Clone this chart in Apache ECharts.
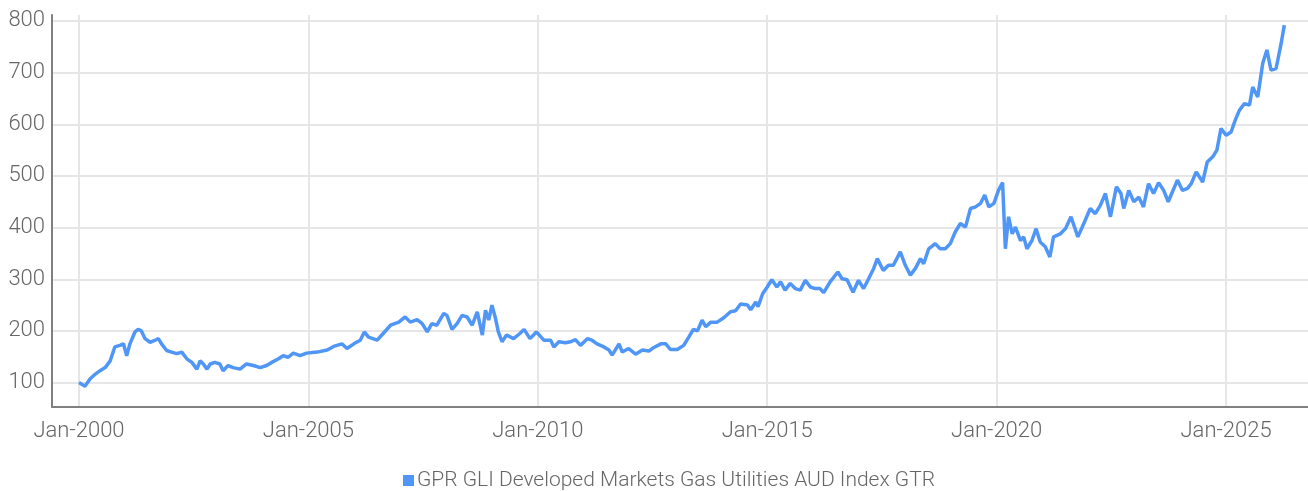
<!DOCTYPE html>
<html>
<head>
<meta charset="utf-8">
<script src="https://cdn.jsdelivr.net/npm/echarts@6/dist/echarts.min.js"></script>
<style>
  html, body { margin: 0; padding: 0; background: #ffffff; }
  #chart { width: 1308px; height: 491px; }
</style>
</head>
<body>
<div id="chart"></div>
<script>
// dates as decimal years
const years = [
  2000.00, 2000.13, 2000.24, 2000.35, 2000.46, 2000.57, 2000.68, 2000.78, 2000.89, 2000.97,
  2001.04, 2001.11, 2001.22, 2001.29, 2001.36, 2001.44, 2001.55, 2001.66, 2001.73, 2001.80, 2001.91,
  2002.02, 2002.13, 2002.24, 2002.35, 2002.46, 2002.57, 2002.64, 2002.71, 2002.79, 2002.86, 2002.96,
  2003.07, 2003.14, 2003.25, 2003.36, 2003.51, 2003.65, 2003.80, 2003.95,
  2004.09, 2004.20, 2004.35, 2004.45, 2004.56, 2004.67, 2004.82, 2004.96,
  2005.19, 2005.41, 2005.55, 2005.73, 2005.84, 2005.99,
  2006.13, 2006.22, 2006.31, 2006.50, 2006.63, 2006.79, 2006.97,
  2007.11, 2007.22, 2007.37, 2007.48, 2007.59, 2007.69, 2007.80, 2007.95,
  2008.02, 2008.13, 2008.24, 2008.35, 2008.46, 2008.57, 2008.68, 2008.79, 2008.86, 2008.93,
  2009.00, 2009.07, 2009.14, 2009.22, 2009.32, 2009.47, 2009.61, 2009.70, 2009.83, 2009.97,
  2010.13, 2010.28, 2010.35, 2010.46, 2010.60, 2010.71, 2010.82, 2010.93,
  2011.08, 2011.18, 2011.29, 2011.44, 2011.55, 2011.62, 2011.77, 2011.84, 2011.98,
  2012.13, 2012.28, 2012.42, 2012.53, 2012.68, 2012.79, 2012.89,
  2013.04, 2013.18, 2013.29, 2013.39, 2013.48, 2013.58, 2013.66, 2013.77, 2013.91,
  2014.06, 2014.20, 2014.31, 2014.42, 2014.57, 2014.64, 2014.75, 2014.80, 2014.90,
  2015.00, 2015.10, 2015.21, 2015.29, 2015.39, 2015.50, 2015.61, 2015.72, 2015.83, 2015.94,
  2016.05, 2016.15, 2016.23, 2016.37, 2016.54, 2016.63, 2016.74, 2016.87, 2016.99,
  2017.10, 2017.21, 2017.32, 2017.40, 2017.53, 2017.64, 2017.75, 2017.90,
  2018.01, 2018.12, 2018.23, 2018.34, 2018.41, 2018.52, 2018.66, 2018.77, 2018.88, 2018.99,
  2019.10, 2019.21, 2019.32, 2019.43, 2019.54, 2019.65, 2019.74, 2019.83, 2019.94,
  2020.04, 2020.13, 2020.19, 2020.26, 2020.34, 2020.41, 2020.52, 2020.59, 2020.66, 2020.77, 2020.86, 2020.95,
  2021.06, 2021.16, 2021.24, 2021.39, 2021.50, 2021.62, 2021.77, 2021.90,
  2022.04, 2022.15, 2022.26, 2022.37, 2022.48, 2022.61, 2022.71, 2022.77, 2022.88, 2022.99,
  2023.10, 2023.20, 2023.31, 2023.42, 2023.53, 2023.64, 2023.74, 2023.83, 2023.94,
  2024.05, 2024.16, 2024.24, 2024.35, 2024.49, 2024.59, 2024.71, 2024.80, 2024.89,
  2025.00, 2025.11, 2025.20, 2025.29, 2025.40, 2025.51, 2025.58, 2025.69, 2025.80, 2025.89, 2025.98,
  2026.09, 2026.20, 2026.27
]
const values = [
  100, 93, 107, 116, 123, 129, 142, 169, 172, 175,
  152, 175, 198, 203, 200, 185, 178, 182, 185, 175, 162,
  159, 156, 159, 146, 139, 126, 142, 136, 126, 136, 139,
  136, 123, 133, 129, 126, 136, 133, 129,
  133, 139, 146, 152, 149, 157, 152, 157,
  159, 163, 170, 175, 166, 175,
  182, 198, 188, 182, 195, 211, 217,
  227, 217, 222, 214, 198, 214, 211, 234,
  230, 203, 214, 230, 227, 211, 237, 192, 240, 221,
  250, 227, 198, 179, 192, 185, 195, 203, 185, 198,
  182, 182, 169, 179, 177, 179, 183, 172,
  185, 182, 175, 169, 163, 153, 175, 159, 166,
  155, 163, 161, 168, 175, 175, 164,
  164, 172, 188, 203, 200, 221, 208, 217, 217,
  226, 237, 239, 252, 250, 241, 256, 247, 272,
  285, 299, 285, 295, 279, 292, 282, 279, 298, 285,
  282, 282, 274, 295, 314, 301, 299, 275, 298,
  282, 301, 321, 340, 317, 327, 327, 353,
  327, 308, 321, 340, 330, 359, 369, 359, 359, 369,
  392, 408, 401, 437, 440, 447, 463, 440, 447,
  472, 487, 359, 421, 388, 401, 375, 382, 359, 375, 398, 372,
  363, 343, 382, 388, 398, 421, 382, 408,
  437, 427, 443, 466, 421, 479, 466, 437, 472, 450,
  459, 440, 485, 466, 487, 472, 450, 469, 492,
  472, 476, 485, 508, 488, 527, 537, 550, 592,
  579, 585, 608, 627, 640, 637, 672, 653, 718, 744, 705,
  708, 756, 792
]
const yTicks = [100, 200, 300, 400, 500, 600, 700, 800]
const xTicks = [2000, 2005, 2010, 2015, 2020, 2025]
const seriesName = 'GPR GLI Developed Markets Gas Utilities AUD Index GTR'

const font = 'Roboto'
const textColor = '#666666'

let chart = echarts.init(document.getElementById('chart'))

let option = {
  animation: false,
  grid: {
    left: 52,
    right: 0,
    top: 15,
    bottom: 84,
    containLabel: false
  },
  legend: {
    left: 398,
    top: 465,
    icon: 'rect',
    itemWidth: 11,
    itemHeight: 11,
    itemGap: 5,
    textStyle: { fontFamily: font, fontWeight: 300, fontSize: 21, color: textColor, padding: [0, 0, 0, -2] },
    data: [seriesName]
  },
  xAxis: {
    type: 'value',
    min: 1999.412,
    max: 2026.786,
    axisLine: { show: true, lineStyle: { color: '#808080', width: 2 } },
    axisTick: { show: false, customValues: xTicks },
    axisLabel: {
      customValues: xTicks,
      formatter: v => 'Jan-' + v,
      fontFamily: font,
      fontWeight: 300,
      fontSize: 22,
      color: textColor,
      margin: 13
    },
    splitLine: { show: true, lineStyle: { color: '#e6e6e6', width: 2 } }
  },
  yAxis: {
    type: 'value',
    min: 52.7,
    max: 811.6,
    axisLine: { show: true, lineStyle: { color: '#808080', width: 2 } },
    axisTick: { show: false, customValues: yTicks },
    axisLabel: {
      customValues: yTicks,
      fontFamily: font,
      fontWeight: 300,
      fontSize: 22,
      color: textColor,
      margin: 7
    },
    splitLine: { show: true, lineStyle: { color: '#e6e6e6', width: 2 } }
  },
  series: [
    {
      name: seriesName,
      type: 'line',
      showSymbol: false,
      color: '#4f96f7',
      lineStyle: { width: 3.5 },
      data: years.map((y, i) => [y, values[i]])
    }
  ]
}

chart.setOption(option)
</script>
</body>
</html>
